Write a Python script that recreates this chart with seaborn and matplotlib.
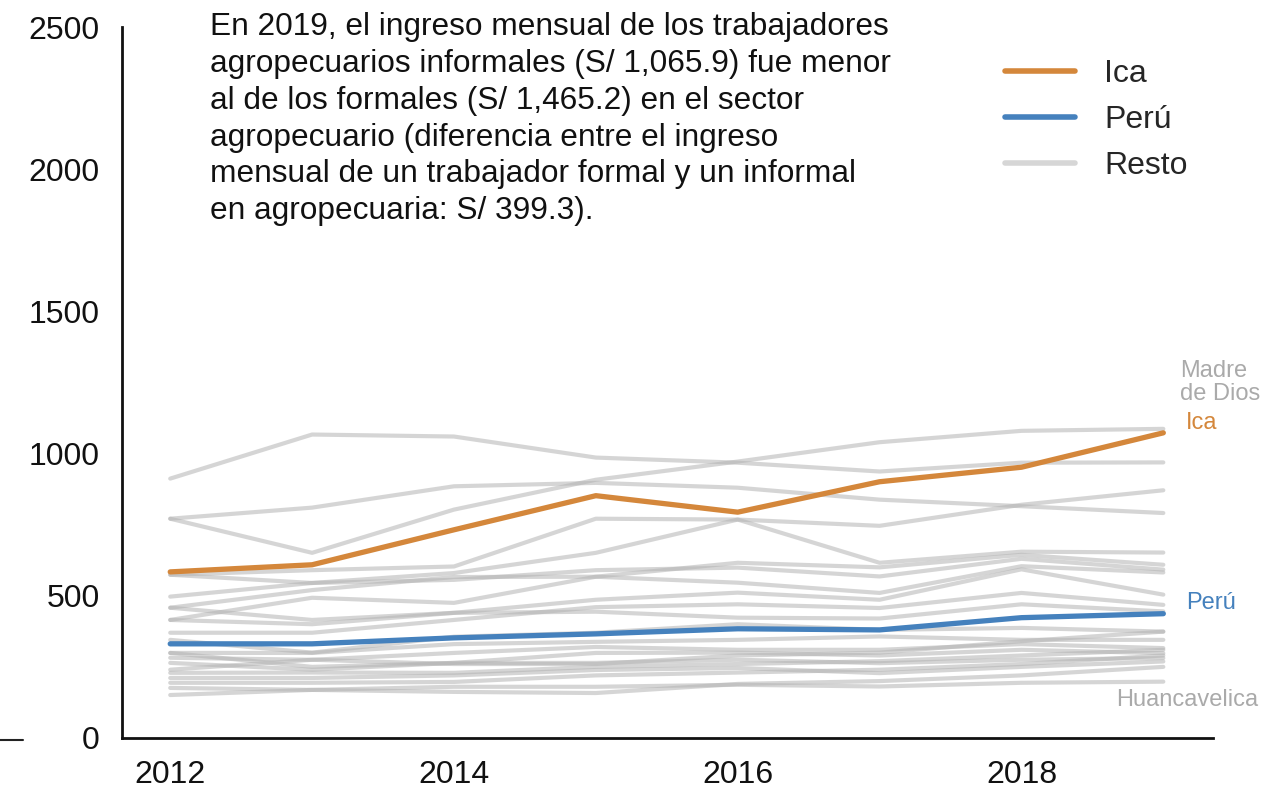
import numpy as np
import pandas as pd
import matplotlib
matplotlib.use("Agg")
import matplotlib.pyplot as plt
import seaborn as sns
from matplotlib.lines import Line2D

# Data
years = [2012, 2013, 2014, 2015, 2016, 2017, 2018, 2019]

ica = [584, 609, 732, 852, 794, 901, 952, 1073]
peru = [331, 331, 352, 366, 384, 380, 423, 437]

resto = {
    "Madre de Dios": [771, 651, 803, 908, 972, 1040, 1080, 1087],
    "R01": [912, 1067, 1060, 986, 968, 937, 968, 969],
    "R02": [771, 810, 885, 897, 880, 838, 815, 791],
    "R03": [574, 590, 603, 771, 768, 746, 820, 871],
    "R04": [497, 545, 580, 651, 768, 616, 655, 652],
    "R05": [458, 520, 566, 567, 616, 600, 644, 609],
    "R06": [574, 545, 556, 590, 599, 568, 630, 592],
    "R07": [415, 493, 475, 567, 546, 510, 604, 582],
    "R08": [458, 415, 440, 486, 511, 486, 593, 504],
    "R09": [370, 370, 415, 460, 470, 457, 510, 468],
    "R10": [415, 400, 440, 444, 423, 420, 470, 445],
    "R11": [345, 300, 356, 370, 400, 380, 387, 374],
    "R12": [299, 299, 330, 338, 345, 357, 345, 345],
    "R13": [282, 275, 299, 320, 310, 310, 330, 316],
    "R14": [299, 250, 264, 299, 300, 290, 310, 298],
    "R15": [264, 240, 264, 264, 275, 263, 275, 281],
    "R16": [229, 230, 229, 250, 260, 270, 290, 310],
    "R17": [211, 211, 220, 239, 246, 228, 250, 269],
    "R18": [194, 194, 197, 220, 230, 240, 260, 290],
    "Huancavelica": [176, 169, 180, 180, 187, 181, 194, 198],
    "R20": [151, 169, 162, 158, 190, 200, 220, 250],
    "R21": [240, 275, 260, 260, 290, 300, 340, 374],
}

note = ("En 2019, el ingreso mensual de los trabajadores\n"
        "agropecuarios informales (S/ 1,065.9) fue menor\n"
        "al de los formales (S/ 1,465.2) en el sector\n"
        "agropecuario (diferencia entre el ingreso\n"
        "mensual de un trabajador formal y un informal\n"
        "en agropecuaria: S/ 399.3).")

c_ica = "#d4873b"
c_peru = "#4581bd"
c_resto = "#b4b4b4"

rows = []
for name, vals in resto.items():
    for y, v in zip(years, vals):
        rows.append({"region": name, "year": y, "value": v})
df_resto = pd.DataFrame(rows)
df_ica = pd.DataFrame({"year": years, "value": ica})
df_peru = pd.DataFrame({"year": years, "value": peru})

sns.set_style("white")
plt.rcParams["font.family"] = ["Liberation Sans", "DejaVu Sans"]

fig = plt.figure(figsize=(12.72, 7.88), dpi=100)
ax = fig.add_axes([0.0959, 0.0635, 0.8577, 0.9022])

sns.lineplot(data=df_resto, x="year", y="value", units="region",
             estimator=None, color=c_resto, alpha=0.55, linewidth=3,
             ax=ax, legend=False)
sns.lineplot(data=df_peru, x="year", y="value", color=c_peru,
             linewidth=3.8, ax=ax)
sns.lineplot(data=df_ica, x="year", y="value", color=c_ica,
             linewidth=3.8, ax=ax)

ax.set_xlim(2011.66, 2019.35)
ax.set_ylim(0, 2500)
ax.set_xticks([2012, 2014, 2016, 2018])
ax.set_yticks([0, 500, 1000, 1500, 2000, 2500])
ax.set_xlabel("")
ax.set_ylabel("")
ax.tick_params(axis="both", labelsize=23, length=0, labelcolor="#111111")
ax.tick_params(axis="x", pad=16)
ax.tick_params(axis="y", pad=16)

for s in ["top", "right"]:
    ax.spines[s].set_visible(False)
for s in ["left", "bottom"]:
    ax.spines[s].set_color("#111111")
    ax.spines[s].set_linewidth(2)

# End labels
ax.text(2019.12, 1250, "Madre\nde Dios", color="#aaaaaa", fontsize=17,
        ha="left", va="center", linespacing=1.1)
ax.text(2019.16, 1106, "Ica", color=c_ica, fontsize=17, ha="left", va="center")
ax.text(2019.16, 475, "Perú", color=c_peru, fontsize=17, ha="left", va="center")
ax.text(2019.67, 134, "Huancavelica", color="#aaaaaa", fontsize=17,
        ha="right", va="center")

handles = [Line2D([0], [0], color=c_ica, lw=4),
           Line2D([0], [0], color=c_peru, lw=4),
           Line2D([0], [0], color="#d6d6d6", lw=4)]
ax.legend(handles, ["Ica", "Perú", "Resto"], loc="upper right",
          bbox_to_anchor=(1.003, 0.995), frameon=False, fontsize=23,
          handlelength=2.2, handletextpad=0.9, labelspacing=0.5)

fig.text(0.165, 0.985, note, fontsize=22.8, ha="left", va="top",
         linespacing=1.3, color="#111111")

# small stray tick at the far left
fig.add_artist(Line2D([0.0, 0.018], [0.061, 0.061], color="#222222", lw=1.5))

fig.savefig("out.png", dpi=100)
